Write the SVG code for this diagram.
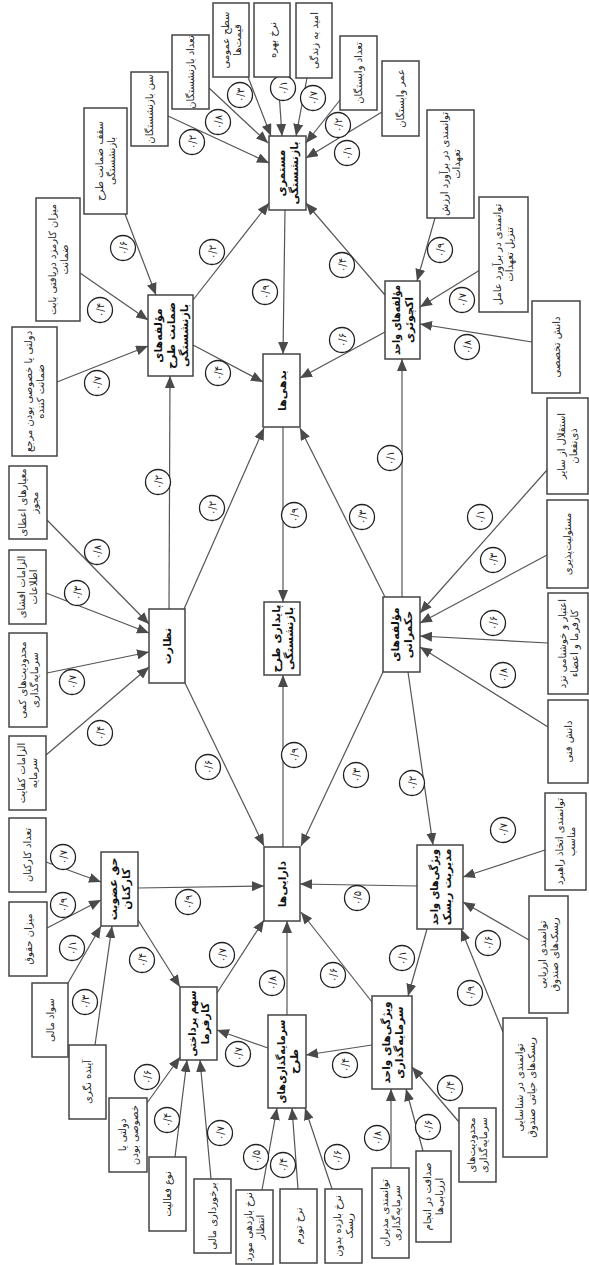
<svg xmlns="http://www.w3.org/2000/svg" width="589" height="1265" viewBox="0 0 589 1265">
<style>
.bg{fill:#fff}
.box{fill:#fff;stroke:#444;stroke-width:1.5}
.t{font-family:"DejaVu Sans",sans-serif;font-size:10px;fill:#222;text-anchor:middle}
.tm{font-family:"DejaVu Sans",sans-serif;font-size:11px;font-weight:bold;fill:#111;text-anchor:middle}
.e{stroke:#555;stroke-width:1.2;fill:none;marker-end:url(#arr)}
.c{fill:#fff;stroke:#222;stroke-width:1.3}
.n{font-family:"DejaVu Sans",sans-serif;font-size:10px;fill:#222;text-anchor:middle}
</style>
<defs>
<marker id="arr" markerUnits="userSpaceOnUse" markerWidth="13" markerHeight="10" refX="12" refY="5" orient="auto">
<path d="M0,0 L12,5 L0,10 z" fill="#4a4a4a"/>
</marker>
</defs>
<rect class="bg" x="0" y="0" width="589" height="1265"/>
<g id="connectors">
<line class="e" x1="168" y1="116" x2="269" y2="163"/>
<line class="e" x1="209" y1="88" x2="268" y2="143"/>
<line class="e" x1="248" y1="77" x2="271" y2="136"/>
<line class="e" x1="278" y1="77" x2="282" y2="136"/>
<line class="e" x1="307" y1="78" x2="296" y2="136"/>
<line class="e" x1="340" y1="100" x2="306" y2="143"/>
<line class="e" x1="382" y1="112" x2="306" y2="158"/>
<line class="e" x1="193" y1="300" x2="269" y2="203"/>
<line class="e" x1="285" y1="210" x2="283" y2="354"/>
<line class="e" x1="385" y1="295" x2="306" y2="203"/>
<line class="e" x1="125" y1="214" x2="156" y2="295"/>
<line class="e" x1="80" y1="273" x2="148" y2="320"/>
<line class="e" x1="57" y1="382" x2="148" y2="346"/>
<line class="e" x1="193" y1="345" x2="263" y2="382"/>
<line class="e" x1="169" y1="609" x2="170" y2="376"/>
<line class="e" x1="184" y1="609" x2="264" y2="428"/>
<line class="e" x1="283" y1="427" x2="283" y2="602"/>
<line class="e" x1="47" y1="520" x2="149" y2="624"/>
<line class="e" x1="46" y1="593" x2="149" y2="633"/>
<line class="e" x1="47" y1="673" x2="149" y2="652"/>
<line class="e" x1="46" y1="755" x2="149" y2="667"/>
<line class="e" x1="185" y1="683" x2="264" y2="846"/>
<line class="e" x1="283" y1="847" x2="283" y2="675"/>
<line class="e" x1="435" y1="218" x2="417" y2="281"/>
<line class="e" x1="480" y1="270" x2="420" y2="307"/>
<line class="e" x1="532" y1="342" x2="420" y2="324"/>
<line class="e" x1="385" y1="332" x2="300" y2="378"/>
<line class="e" x1="402" y1="597" x2="402" y2="359"/>
<line class="e" x1="385" y1="597" x2="300" y2="428"/>
<line class="e" x1="547" y1="470" x2="420" y2="613"/>
<line class="e" x1="547" y1="555" x2="420" y2="623"/>
<line class="e" x1="548" y1="643" x2="420" y2="636"/>
<line class="e" x1="548" y1="727" x2="420" y2="647"/>
<line class="e" x1="383" y1="672" x2="301" y2="846"/>
<line class="e" x1="408" y1="672" x2="433" y2="845"/>
<line class="e" x1="545" y1="850" x2="463" y2="877"/>
<line class="e" x1="529" y1="940" x2="463" y2="902"/>
<line class="e" x1="503" y1="1032" x2="461" y2="929"/>
<line class="e" x1="417" y1="886" x2="300" y2="884"/>
<line class="e" x1="427" y1="929" x2="408" y2="996"/>
<line class="e" x1="372" y1="1002" x2="301" y2="912"/>
<line class="e" x1="372" y1="1045" x2="306" y2="1055"/>
<line class="e" x1="391" y1="1168" x2="391" y2="1089"/>
<line class="e" x1="423" y1="1151" x2="406" y2="1089"/>
<line class="e" x1="459" y1="1122" x2="412" y2="1067"/>
<line class="e" x1="287" y1="1015" x2="287" y2="921"/>
<line class="e" x1="46" y1="862" x2="101" y2="882"/>
<line class="e" x1="47" y1="928" x2="101" y2="900"/>
<line class="e" x1="68" y1="983" x2="101" y2="926"/>
<line class="e" x1="95" y1="1045" x2="112" y2="926"/>
<line class="e" x1="138" y1="888" x2="264" y2="886"/>
<line class="e" x1="138" y1="920" x2="180" y2="987"/>
<line class="e" x1="217" y1="993" x2="264" y2="920"/>
<line class="e" x1="268" y1="1048" x2="217" y2="1030"/>
<line class="e" x1="147" y1="1103" x2="180" y2="1057"/>
<line class="e" x1="175" y1="1157" x2="187" y2="1060"/>
<line class="e" x1="211" y1="1179" x2="200" y2="1060"/>
<line class="e" x1="262" y1="1190" x2="277" y2="1108"/>
<line class="e" x1="298" y1="1189" x2="292" y2="1108"/>
<line class="e" x1="332" y1="1189" x2="305" y2="1108"/>
</g>
<g id="labels">
<g><circle class="c" cx="192" cy="142" r="12.5"/><text class="n" transform="rotate(-90 192 142)" x="192" y="145.5">۰/۲</text></g>
<g><circle class="c" cx="218" cy="122" r="12.5"/><text class="n" transform="rotate(-90 218 122)" x="218" y="125.5">۰/۸</text></g>
<g><circle class="c" cx="240" cy="95" r="12.5"/><text class="n" transform="rotate(-90 240 95)" x="240" y="98.5">۰/۳</text></g>
<g><circle class="c" cx="283" cy="88" r="12.5"/><text class="n" transform="rotate(-90 283 88)" x="283" y="91.5">۰/۱</text></g>
<g><circle class="c" cx="313" cy="98" r="12.5"/><text class="n" transform="rotate(-90 313 98)" x="313" y="101.5">۰/۷</text></g>
<g><circle class="c" cx="338" cy="125" r="12.5"/><text class="n" transform="rotate(-90 338 125)" x="338" y="128.5">۰/۲</text></g>
<g><circle class="c" cx="347" cy="153" r="12.5"/><text class="n" transform="rotate(-90 347 153)" x="347" y="156.5">۰/۱</text></g>
<g><circle class="c" cx="212" cy="252" r="12.5"/><text class="n" transform="rotate(-90 212 252)" x="212" y="255.5">۰/۲</text></g>
<g><circle class="c" cx="265" cy="292" r="12.5"/><text class="n" transform="rotate(-90 265 292)" x="265" y="295.5">۰/۹</text></g>
<g><circle class="c" cx="342" cy="265" r="12.5"/><text class="n" transform="rotate(-90 342 265)" x="342" y="268.5">۰/۴</text></g>
<g><circle class="c" cx="123" cy="248" r="12.5"/><text class="n" transform="rotate(-90 123 248)" x="123" y="251.5">۰/۶</text></g>
<g><circle class="c" cx="100" cy="310" r="12.5"/><text class="n" transform="rotate(-90 100 310)" x="100" y="313.5">۰/۴</text></g>
<g><circle class="c" cx="97" cy="383" r="12.5"/><text class="n" transform="rotate(-90 97 383)" x="97" y="386.5">۰/۷</text></g>
<g><circle class="c" cx="218" cy="373" r="12.5"/><text class="n" transform="rotate(-90 218 373)" x="218" y="376.5">۰/۴</text></g>
<g><circle class="c" cx="158" cy="482" r="12.5"/><text class="n" transform="rotate(-90 158 482)" x="158" y="485.5">۰/۲</text></g>
<g><circle class="c" cx="212" cy="508" r="12.5"/><text class="n" transform="rotate(-90 212 508)" x="212" y="511.5">۰/۲</text></g>
<g><circle class="c" cx="294" cy="515" r="12.5"/><text class="n" transform="rotate(-90 294 515)" x="294" y="518.5">۰/۹</text></g>
<g><circle class="c" cx="97" cy="552" r="12.5"/><text class="n" transform="rotate(-90 97 552)" x="97" y="555.5">۰/۸</text></g>
<g><circle class="c" cx="77" cy="593" r="12.5"/><text class="n" transform="rotate(-90 77 593)" x="77" y="596.5">۰/۳</text></g>
<g><circle class="c" cx="72" cy="682" r="12.5"/><text class="n" transform="rotate(-90 72 682)" x="72" y="685.5">۰/۷</text></g>
<g><circle class="c" cx="100" cy="733" r="12.5"/><text class="n" transform="rotate(-90 100 733)" x="100" y="736.5">۰/۴</text></g>
<g><circle class="c" cx="208" cy="767" r="12.5"/><text class="n" transform="rotate(-90 208 767)" x="208" y="770.5">۰/۶</text></g>
<g><circle class="c" cx="294" cy="755" r="12.5"/><text class="n" transform="rotate(-90 294 755)" x="294" y="758.5">۰/۹</text></g>
<g><circle class="c" cx="440" cy="250" r="12.5"/><text class="n" transform="rotate(-90 440 250)" x="440" y="253.5">۰/۹</text></g>
<g><circle class="c" cx="462" cy="300" r="12.5"/><text class="n" transform="rotate(-90 462 300)" x="462" y="303.5">۰/۷</text></g>
<g><circle class="c" cx="467" cy="347" r="12.5"/><text class="n" transform="rotate(-90 467 347)" x="467" y="350.5">۰/۸</text></g>
<g><circle class="c" cx="342" cy="340" r="12.5"/><text class="n" transform="rotate(-90 342 340)" x="342" y="343.5">۰/۶</text></g>
<g><circle class="c" cx="390" cy="458" r="12.5"/><text class="n" transform="rotate(-90 390 458)" x="390" y="461.5">۰/۱</text></g>
<g><circle class="c" cx="362" cy="517" r="12.5"/><text class="n" transform="rotate(-90 362 517)" x="362" y="520.5">۰/۳</text></g>
<g><circle class="c" cx="480" cy="517" r="12.5"/><text class="n" transform="rotate(-90 480 517)" x="480" y="520.5">۰/۱</text></g>
<g><circle class="c" cx="493" cy="560" r="12.5"/><text class="n" transform="rotate(-90 493 560)" x="493" y="563.5">۰/۳</text></g>
<g><circle class="c" cx="493" cy="623" r="12.5"/><text class="n" transform="rotate(-90 493 623)" x="493" y="626.5">۰/۶</text></g>
<g><circle class="c" cx="503" cy="675" r="12.5"/><text class="n" transform="rotate(-90 503 675)" x="503" y="678.5">۰/۸</text></g>
<g><circle class="c" cx="356" cy="775" r="12.5"/><text class="n" transform="rotate(-90 356 775)" x="356" y="778.5">۰/۳</text></g>
<g><circle class="c" cx="412" cy="783" r="12.5"/><text class="n" transform="rotate(-90 412 783)" x="412" y="786.5">۰/۲</text></g>
<g><circle class="c" cx="503" cy="830" r="12.5"/><text class="n" transform="rotate(-90 503 830)" x="503" y="833.5">۰/۷</text></g>
<g><circle class="c" cx="488" cy="943" r="12.5"/><text class="n" transform="rotate(-90 488 943)" x="488" y="946.5">۰/۶</text></g>
<g><circle class="c" cx="470" cy="993" r="12.5"/><text class="n" transform="rotate(-90 470 993)" x="470" y="996.5">۰/۹</text></g>
<g><circle class="c" cx="357" cy="898" r="12.5"/><text class="n" transform="rotate(-90 357 898)" x="357" y="901.5">۰/۵</text></g>
<g><circle class="c" cx="402" cy="958" r="12.5"/><text class="n" transform="rotate(-90 402 958)" x="402" y="961.5">۰/۱</text></g>
<g><circle class="c" cx="333" cy="975" r="12.5"/><text class="n" transform="rotate(-90 333 975)" x="333" y="978.5">۰/۶</text></g>
<g><circle class="c" cx="345" cy="1065" r="12.5"/><text class="n" transform="rotate(-90 345 1065)" x="345" y="1068.5">۰/۴</text></g>
<g><circle class="c" cx="377" cy="1138" r="12.5"/><text class="n" transform="rotate(-90 377 1138)" x="377" y="1141.5">۰/۸</text></g>
<g><circle class="c" cx="428" cy="1127" r="12.5"/><text class="n" transform="rotate(-90 428 1127)" x="428" y="1130.5">۰/۶</text></g>
<g><circle class="c" cx="450" cy="1088" r="12.5"/><text class="n" transform="rotate(-90 450 1088)" x="450" y="1091.5">۰/۴</text></g>
<g><circle class="c" cx="272" cy="983" r="12.5"/><text class="n" transform="rotate(-90 272 983)" x="272" y="986.5">۰/۸</text></g>
<g><circle class="c" cx="63" cy="857" r="12.5"/><text class="n" transform="rotate(-90 63 857)" x="63" y="860.5">۰/۷</text></g>
<g><circle class="c" cx="63" cy="905" r="12.5"/><text class="n" transform="rotate(-90 63 905)" x="63" y="908.5">۰/۹</text></g>
<g><circle class="c" cx="72" cy="948" r="12.5"/><text class="n" transform="rotate(-90 72 948)" x="72" y="951.5">۰/۱</text></g>
<g><circle class="c" cx="85" cy="1002" r="12.5"/><text class="n" transform="rotate(-90 85 1002)" x="85" y="1005.5">۰/۳</text></g>
<g><circle class="c" cx="188" cy="902" r="12.5"/><text class="n" transform="rotate(-90 188 902)" x="188" y="905.5">۰/۹</text></g>
<g><circle class="c" cx="142" cy="960" r="12.5"/><text class="n" transform="rotate(-90 142 960)" x="142" y="963.5">۰/۴</text></g>
<g><circle class="c" cx="222" cy="955" r="12.5"/><text class="n" transform="rotate(-90 222 955)" x="222" y="958.5">۰/۷</text></g>
<g><circle class="c" cx="238" cy="1054" r="12.5"/><text class="n" transform="rotate(-90 238 1054)" x="238" y="1057.5">۰/۷</text></g>
<g><circle class="c" cx="147" cy="1077" r="12.5"/><text class="n" transform="rotate(-90 147 1077)" x="147" y="1080.5">۰/۶</text></g>
<g><circle class="c" cx="167" cy="1120" r="12.5"/><text class="n" transform="rotate(-90 167 1120)" x="167" y="1123.5">۰/۴</text></g>
<g><circle class="c" cx="220" cy="1133" r="12.5"/><text class="n" transform="rotate(-90 220 1133)" x="220" y="1136.5">۰/۷</text></g>
<g><circle class="c" cx="256" cy="1157" r="12.5"/><text class="n" transform="rotate(-90 256 1157)" x="256" y="1160.5">۰/۵</text></g>
<g><circle class="c" cx="283" cy="1165" r="12.5"/><text class="n" transform="rotate(-90 283 1165)" x="283" y="1168.5">۰/۴</text></g>
<g><circle class="c" cx="337" cy="1157" r="12.5"/><text class="n" transform="rotate(-90 337 1157)" x="337" y="1160.5">۰/۶</text></g>
</g>
<g id="n-sath"><rect class="box" x="213" y="3" width="36" height="74"/><text class="t" transform="rotate(-90 231 40)"><tspan x="231" y="37.5">سطح عمومی</tspan><tspan x="231" y="49.5">قیمت‌ها</tspan></text></g>
<g id="n-bahre"><rect class="box" x="254" y="3" width="36" height="74"/><text class="t" transform="rotate(-90 272 40)" x="272" y="43.5">نرخ بهره</text></g>
<g id="n-omid"><rect class="box" x="296" y="3" width="36" height="75"/><text class="t" transform="rotate(-90 314 40.5)" x="314" y="44">امید به زندگی</text></g>
<g id="n-tedadvab"><rect class="box" x="340" y="36" width="37" height="74"/><text class="t" transform="rotate(-90 358.5 73)" x="358.5" y="76.5">تعداد وابستگان</text></g>
<g id="n-omrvab"><rect class="box" x="382" y="61" width="37" height="75"/><text class="t" transform="rotate(-90 400.5 98.5)" x="400.5" y="102">عمر وابستگان</text></g>
<g id="n-arzesh"><rect class="box" x="427" y="110" width="47" height="108"/><text class="t" transform="rotate(-90 450.5 164)"><tspan x="450.5" y="161.5">توانمندی در برآورد ارزش</tspan><tspan x="450.5" y="173.5">تعهدات</tspan></text></g>
<g id="n-tanzil"><rect class="box" x="479" y="197" width="49" height="115"/><text class="t" transform="rotate(-90 503.5 254.5)"><tspan x="503.5" y="252">توانمندی در برآورد عامل</tspan><tspan x="503.5" y="264">تنزیل تعهدات</tspan></text></g>
<g id="n-takhasosi"><rect class="box" x="532" y="301" width="48" height="92"/><text class="t" transform="rotate(-90 556 347)" x="556" y="350.5">دانش تخصصی</text></g>
<g id="n-tedadbaz"><rect class="box" x="172" y="35" width="37" height="74"/><text class="t" transform="rotate(-90 190.5 72)" x="190.5" y="75.5">تعداد بازنشستگان</text></g>
<g id="n-sen"><rect class="box" x="131" y="72" width="37" height="74"/><text class="t" transform="rotate(-90 149.5 109)" x="149.5" y="112.5">سن بازنشستگان</text></g>
<g id="n-saghf"><rect class="box" x="84" y="108" width="43" height="106"/><text class="t" transform="rotate(-90 105.5 161)"><tspan x="105.5" y="158.5">سقف ضمانت طرح</tspan><tspan x="105.5" y="170.5">بازنشستگی</tspan></text></g>
<g id="n-karmozd"><rect class="box" x="36" y="198" width="44" height="123"/><text class="t" transform="rotate(-90 58 259.5)"><tspan x="58" y="257">میزان کارمزد دریافتی بابت</tspan><tspan x="58" y="269">ضمانت</tspan></text></g>
<g id="n-marja"><rect class="box" x="12" y="327" width="45" height="129"/><text class="t" transform="rotate(-90 34.5 391.5)"><tspan x="34.5" y="389">دولتی یا خصوصی بودن مرجع</tspan><tspan x="34.5" y="401">ضمانت کننده</tspan></text></g>
<g id="n-zemanat"><rect class="box" x="148" y="295" width="45" height="81"/><text class="tm" transform="rotate(-90 170.5 335.5)"><tspan x="170.5" y="326.5">مؤلفه‌های</tspan><tspan x="170.5" y="339.5">ضمانت طرح</tspan><tspan x="170.5" y="352.5">بازنشستگی</tspan></text></g>
<g id="n-mostamari"><rect class="box" x="269" y="136" width="37" height="74"/><text class="tm" transform="rotate(-90 287.5 173)"><tspan x="287.5" y="170.5">مستمری</tspan><tspan x="287.5" y="183.5">بازنشستگی</tspan></text></g>
<g id="n-bedehi"><rect class="box" x="263" y="354" width="37" height="73"/><text class="tm" transform="rotate(-90 281.5 390.5)" x="281.5" y="394.5">بدهی‌ها</text></g>
<g id="n-actuary"><rect class="box" x="385" y="281" width="35" height="78"/><text class="tm" transform="rotate(-90 402.5 320)"><tspan x="402.5" y="317.5" textLength="70" lengthAdjust="spacingAndGlyphs">مؤلفه‌های واحد</tspan><tspan x="402.5" y="330.5">اکچوئری</tspan></text></g>
<g id="n-meyar"><rect class="box" x="9" y="466" width="38" height="73"/><text class="t" transform="rotate(-90 28 502.5)"><tspan x="28" y="500">معیارهای اعطای</tspan><tspan x="28" y="512">مجوز</tspan></text></g>
<g id="n-efsha"><rect class="box" x="9" y="550" width="37" height="74"/><text class="t" transform="rotate(-90 27.5 587)"><tspan x="27.5" y="584.5">الزامات افشای</tspan><tspan x="27.5" y="596.5">اطلاعات</tspan></text></g>
<g id="n-nezarat"><rect class="box" x="149" y="609" width="36" height="74"/><text class="tm" transform="rotate(-90 167 646)" x="167" y="650">نظارت</text></g>
<g id="n-paydari"><rect class="box" x="264" y="602" width="36" height="73"/><text class="tm" transform="rotate(-90 282 638.5)"><tspan x="282" y="636">پایداری طرح</tspan><tspan x="282" y="649">بازنشستگی</tspan></text></g>
<g id="n-kami"><rect class="box" x="9" y="633" width="38" height="94"/><text class="t" transform="rotate(-90 28 680)"><tspan x="28" y="677.5">محدودیت‌های کمی</tspan><tspan x="28" y="689.5">سرمایه‌گذاری</tspan></text></g>
<g id="n-kefayat"><rect class="box" x="9" y="736" width="37" height="74"/><text class="t" transform="rotate(-90 27.5 773)"><tspan x="27.5" y="770.5">الزامات کفایت</tspan><tspan x="27.5" y="782.5">سرمایه</tspan></text></g>
<g id="n-karkonan"><rect class="box" x="9" y="818" width="37" height="74"/><text class="t" transform="rotate(-90 27.5 855)" x="27.5" y="858.5">تعداد کارکنان</text></g>
<g id="n-esteghlal"><rect class="box" x="547" y="398" width="41" height="96"/><text class="t" transform="rotate(-90 567.5 446)"><tspan x="567.5" y="443.5">استقلال از سایر</tspan><tspan x="567.5" y="455.5">ذی‌نفعان</tspan></text></g>
<g id="n-masuliat"><rect class="box" x="547" y="500" width="41" height="88"/><text class="t" transform="rotate(-90 567.5 544)" x="567.5" y="547.5">مسئولیت‌پذیری</text></g>
<g id="n-etebar"><rect class="box" x="548" y="593" width="40" height="101"/><text class="t" transform="rotate(-90 568 643.5)"><tspan x="568" y="641">اعتبار و خوشنامی نزد</tspan><tspan x="568" y="653">کارفرما و اعضاء</tspan></text></g>
<g id="n-fani"><rect class="box" x="548" y="700" width="40" height="83"/><text class="t" transform="rotate(-90 568 741.5)" x="568" y="745">دانش فنی</text></g>
<g id="n-hokmrani"><rect class="box" x="383" y="597" width="37" height="75"/><text class="tm" transform="rotate(-90 401.5 634.5)"><tspan x="401.5" y="632">مؤلفه‌های</tspan><tspan x="401.5" y="645">حکمرانی</tspan></text></g>
<g id="n-rahbord"><rect class="box" x="545" y="793" width="41" height="97"/><text class="t" transform="rotate(-90 565.5 841.5)"><tspan x="565.5" y="839">توانمندی اتخاذ راهبرد</tspan><tspan x="565.5" y="851">مناسب</tspan></text></g>
<g id="n-arzyabi"><rect class="box" x="529" y="896" width="39" height="117"/><text class="t" transform="rotate(-90 548.5 954.5)"><tspan x="548.5" y="952">توانمندی ارزیابی</tspan><tspan x="548.5" y="964">ریسک‌های صندوق</tspan></text></g>
<g id="n-shenasayi"><rect class="box" x="503" y="1018" width="44" height="139"/><text class="t" transform="rotate(-90 525 1087.5)"><tspan x="525" y="1085">توانمندی در شناسایی</tspan><tspan x="525" y="1097">ریسک‌های حیاتی صندوق</tspan></text></g>
<g id="n-risk"><rect class="box" x="417" y="845" width="46" height="84"/><text class="tm" transform="rotate(-90 440 887)"><tspan x="440" y="884.5" textLength="76" lengthAdjust="spacingAndGlyphs">ویژگی‌های واحد</tspan><tspan x="440" y="897.5">مدیریت ریسک</tspan></text></g>
<g id="n-daraei"><rect class="box" x="264" y="847" width="36" height="74"/><text class="tm" transform="rotate(-90 282 884)" x="282" y="888">دارایی‌ها</text></g>
<g id="n-hagh"><rect class="box" x="101" y="852" width="37" height="74"/><text class="tm" transform="rotate(-90 119.5 889)"><tspan x="119.5" y="886.5">حق عضویت</tspan><tspan x="119.5" y="899.5">کارکنان</tspan></text></g>
<g id="n-hoghugh"><rect class="box" x="9" y="902" width="38" height="74"/><text class="t" transform="rotate(-90 28 939)" x="28" y="942.5">میزان حقوق</text></g>
<g id="n-savad"><rect class="box" x="32" y="983" width="36" height="74"/><text class="t" transform="rotate(-90 50 1020)" x="50" y="1023.5">سواد مالی</text></g>
<g id="n-ayande"><rect class="box" x="69" y="1045" width="37" height="74"/><text class="t" transform="rotate(-90 87.5 1082)" x="87.5" y="1085.5">آینده نگری</text></g>
<g id="n-sahm"><rect class="box" x="180" y="987" width="37" height="73"/><text class="tm" transform="rotate(-90 198.5 1023.5)"><tspan x="198.5" y="1021" textLength="66" lengthAdjust="spacingAndGlyphs">سهم پرداختی</tspan><tspan x="198.5" y="1034">کارفرما</tspan></text></g>
<g id="n-tarh"><rect class="box" x="268" y="1015" width="38" height="93"/><text class="tm" transform="rotate(-90 287 1061.5)"><tspan x="287" y="1059" textLength="84" lengthAdjust="spacingAndGlyphs">سرمایه‌گذاری‌های</tspan><tspan x="287" y="1072">طرح</tspan></text></g>
<g id="n-vahed"><rect class="box" x="372" y="996" width="40" height="93"/><text class="tm" transform="rotate(-90 392 1042.5)"><tspan x="392" y="1040" textLength="82" lengthAdjust="spacingAndGlyphs">ویژگی‌های واحد</tspan><tspan x="392" y="1053">سرمایه‌گذاری</tspan></text></g>
<g id="n-dolati2"><rect class="box" x="109" y="1098" width="38" height="74"/><text class="t" transform="rotate(-90 128 1135)"><tspan x="128" y="1132.5">دولتی یا</tspan><tspan x="128" y="1144.5">خصوصی بودن</tspan></text></g>
<g id="n-noe"><rect class="box" x="149" y="1157" width="37" height="74"/><text class="t" transform="rotate(-90 167.5 1194)" x="167.5" y="1197.5">نوع فعالیت</text></g>
<g id="n-barkhordari"><rect class="box" x="194" y="1179" width="37" height="74"/><text class="t" transform="rotate(-90 212.5 1216)" x="212.5" y="1219.5">برخورداری مالی</text></g>
<g id="n-bazdehi"><rect class="box" x="236" y="1190" width="37" height="74"/><text class="t" transform="rotate(-90 254.5 1227)"><tspan x="254.5" y="1224.5">نرخ بازدهی مورد</tspan><tspan x="254.5" y="1236.5">انتظار</tspan></text></g>
<g id="n-tavarom"><rect class="box" x="280" y="1189" width="37" height="74"/><text class="t" transform="rotate(-90 298.5 1226)" x="298.5" y="1229.5">نرخ تورم</text></g>
<g id="n-bedune"><rect class="box" x="325" y="1189" width="37" height="74"/><text class="t" transform="rotate(-90 343.5 1226)"><tspan x="343.5" y="1223.5">نرخ بازده بدون</tspan><tspan x="343.5" y="1235.5">ریسک</tspan></text></g>
<g id="n-modiran"><rect class="box" x="372" y="1168" width="37" height="90"/><text class="t" transform="rotate(-90 390.5 1213)"><tspan x="390.5" y="1210.5">توانمندی مدیران</tspan><tspan x="390.5" y="1222.5">سرمایه‌گذاری</tspan></text></g>
<g id="n-sedaghat"><rect class="box" x="416" y="1151" width="35" height="91"/><text class="t" transform="rotate(-90 433.5 1196.5)"><tspan x="433.5" y="1194">صداقت در انجام</tspan><tspan x="433.5" y="1206">ارزیابی‌ها</tspan></text></g>
<g id="n-mahdudiat"><rect class="box" x="459" y="1108" width="37" height="74"/><text class="t" transform="rotate(-90 477.5 1145)"><tspan x="477.5" y="1142.5">محدودیت‌های</tspan><tspan x="477.5" y="1154.5">سرمایه‌گذاری</tspan></text></g>
</svg>
